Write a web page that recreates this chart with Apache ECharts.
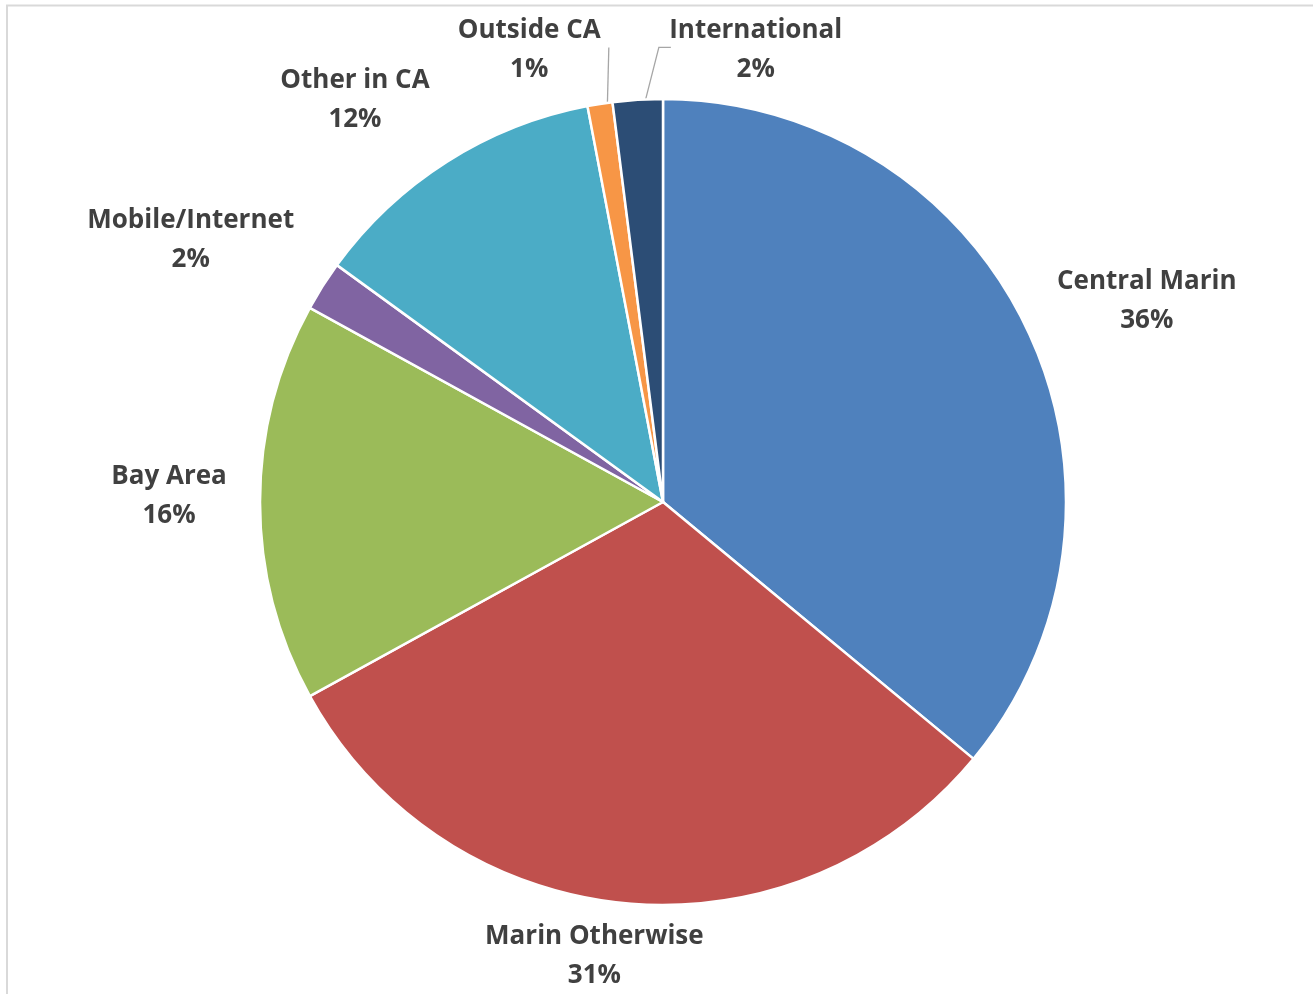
<!DOCTYPE html>
<html>
<head>
<meta charset="utf-8">
<style>
  html, body { margin: 0; padding: 0; background: #ffffff; }
  #chart { width: 1313px; height: 994px; }
</style>
<script src="https://cdn.jsdelivr.net/npm/echarts@6/dist/echarts.min.js"></script>
</head>
<body>
<div id="chart"></div>
<script>
// Share of visitors by where they come from (percent)
const categories = ['Central Marin', 'Marin Otherwise', 'Bay Area', 'Mobile/Internet', 'Other in CA', 'Outside CA', 'International'];
const shares = [36, 31, 16, 2, 12, 1, 2];
const sliceColors = ['#4F81BD', '#C0504D', '#9BBB59', '#8064A2', '#4BACC6', '#F79646', '#2C4D75'];

// Pie geometry in pixels
const CX = 663, CY = 502, R = 403;

// Where each label block sits: polar angle (deg, clockwise from 12 o'clock) and distance from centre
const labelPolar = [
  [67.4, 524], [188.6, 459], [270.7, 494], [299.0, 540], [322.5, 506], [343.5, 471], [11.6, 461]
];
// Which labels get a leader line
const withLeader = [false, false, false, false, false, true, true];

const total = shares.reduce((a, b) => a + b, 0);
const midAngles = [];
{
  let acc = 0;
  shares.forEach(v => { midAngles.push((acc + v / 2) / total * 360); acc += v; });
}
function polar(deg, r) {
  const a = deg * Math.PI / 180;
  return [CX + r * Math.sin(a), CY - r * Math.cos(a)];
}

const chart = echarts.init(document.getElementById('chart'), null, { renderer: 'canvas' });

chart.setOption({
  animation: false,
  backgroundColor: '#ffffff',
  graphic: [{
    type: 'rect',
    shape: { x: 7, y: 5.5, width: 1400, height: 1100 },
    style: { fill: 'none', stroke: '#d9d9d9', lineWidth: 2 },
    silent: true
  }],
  series: [{
    type: 'pie',
    center: [CX, CY],
    radius: [0, R],
    startAngle: 90,
    clockwise: true,
    avoidLabelOverlap: false,
    data: categories.map((name, i) => ({
      name,
      value: shares[i],
      itemStyle: { color: sliceColors[i] },
      labelLine: { show: withLeader[i] }
    })),
    itemStyle: { borderColor: '#ffffff', borderWidth: 2.5 },
    label: {
      show: true,
      position: 'outside',
      formatter: p => p.name + '\n' + p.value + '%',
      fontFamily: '"Open Sans", sans-serif',
      fontWeight: 'bold',
      fontSize: 26,
      lineHeight: 39,
      color: '#404040',
      align: 'center'
    },
    labelLine: {
      show: false,
      lineStyle: { color: '#a6a6a6', width: 1.3 }
    },
    labelLayout: function (params) {
      const i = params.dataIndex;
      const [deg, dist] = labelPolar[i];
      const [x, y] = polar(deg, dist);
      const out = { x: x, y: y, align: 'center', verticalAlign: 'middle' };
      if (withLeader[i]) {
        const start = polar(midAngles[i] + 1, R - 3);
        const top = y - 3;
        if (i === 5) {
          out.labelLinePoints = [start, [start[0] + 1.5, top], [start[0] + 1.5, top]];
        } else {
          const bend = [start[0] + 14, top];
          out.labelLinePoints = [start, bend, [bend[0] + 12, bend[1]]];
        }
      }
      return out;
    }
  }]
});
</script>
</body>
</html>
